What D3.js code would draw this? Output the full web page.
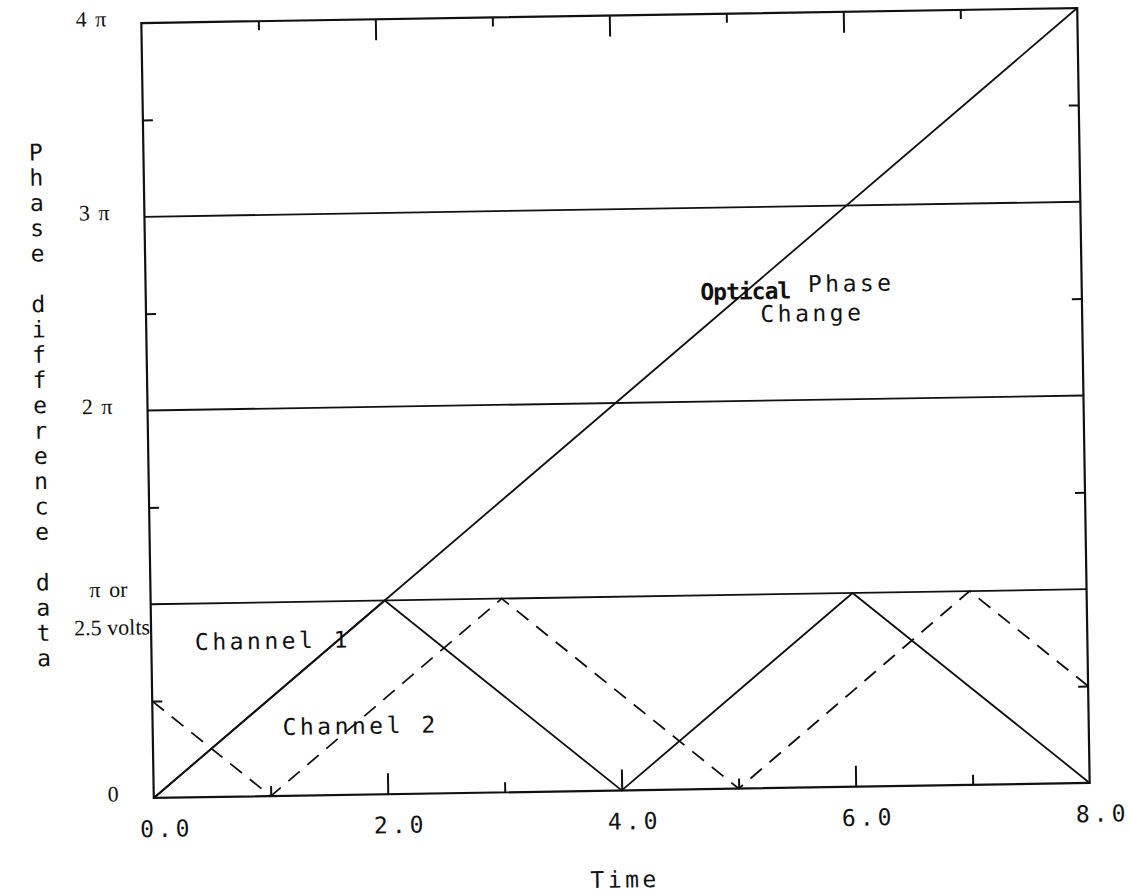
<!DOCTYPE html>
<html>
<head>
<meta charset="utf-8">
<script src="https://cdn.jsdelivr.net/npm/d3@7"></script>
<style>
  html, body { margin: 0; padding: 0; background: #fff; }
  svg { display: block; }
  .mono { font-family: "DejaVu Sans Mono", monospace; fill: #111; }
  .serif { font-family: "Liberation Serif", "DejaVu Serif", serif; fill: #111; }
</style>
</head>
<body>
<svg id="chart" width="1131" height="896"></svg>
<script>
// Time axis (arbitrary units) and phase values in multiples of pi
const time = [0, 1, 2, 3, 4, 5, 6, 7, 8];
const opticalTime = [0, 8];
const opticalPhase = [0, 4];
const channel1 = [0, 0.5, 1, 0.5, 0, 0.5, 1, 0.5, 0];
const channel2 = [0.5, 0, 0.5, 1, 0.5, 0, 0.5, 1, 0.5];

// Reference levels drawn across the plot
const phaseLevels = [1, 2, 3];
const yMinorTicks = [0.5, 1.5, 2.5, 3.5];
const xMajorTicks = [2, 4, 6];
const xMinorTicks = [1, 3, 5, 7];
const xTickLabels = [0, 2, 4, 6, 8];
const yTickValues = [0, 2, 3, 4];
const yTickText = ["0", "2 \u03c0", "3 \u03c0", "4 \u03c0"];
const piLabelLines = ["\u03c0 or", "2.5 volts"];
const yTitle = "Phase difference data";
const xTitle = "Time";

// Curve labels placed in data coordinates (time, phase / pi)
const annotations = [
  { text: "Channel 1", t: 0.373, v: 0.76 },
  { text: "Channel 2", t: 1.11, v: 0.314 },
  { text: "Optical", t: 4.74, v: 2.524, bold: true },
  { text: "Phase", t: 5.66, v: 2.557 },
  { text: "Change", t: 5.25, v: 2.406 }
];

const plotLeft = 147.5, plotRight = 1083.5, plotTop = 15.5, plotBottom = 790.5;
const cx = (plotLeft + plotRight) / 2, cy = (plotTop + plotBottom) / 2;

const svg = d3.select("#chart");
// whole sheet sits slightly tilted
const g = svg.append("g").attr("transform", `rotate(-0.92, ${cx}, ${cy})`);

const x = d3.scaleLinear().domain([0, 8]).range([plotLeft, plotRight]);
const y = d3.scaleLinear().domain([0, 4]).range([plotBottom, plotTop]);

// frame
g.append("rect")
  .attr("x", plotLeft).attr("y", plotTop)
  .attr("width", plotRight - plotLeft).attr("height", plotBottom - plotTop)
  .attr("fill", "none").attr("stroke", "#111").attr("stroke-width", 2.2);

// horizontal pi levels
g.selectAll("line.level").data(phaseLevels).join("line")
  .attr("class", "level")
  .attr("x1", plotLeft).attr("x2", plotRight)
  .attr("y1", d => y(d)).attr("y2", d => y(d))
  .attr("stroke", "#111").attr("stroke-width", 1.8);

// tick marks, all pointing inward
function tickAxis(axisFn, scale, values, size, transform) {
  const a = g.append("g").attr("transform", transform)
    .call(axisFn(scale).tickValues(values).tickSize(-size).tickFormat(""));
  a.select(".domain").remove();
  a.selectAll(".tick line").attr("stroke", "#111").attr("stroke-width", 2);
  return a;
}
tickAxis(d3.axisBottom, x, xMajorTicks, 21, `translate(0,${plotBottom})`);
tickAxis(d3.axisBottom, x, xMinorTicks, 10, `translate(0,${plotBottom})`);
tickAxis(d3.axisTop, x, xMajorTicks, 21, `translate(0,${plotTop})`);
tickAxis(d3.axisTop, x, xMinorTicks, 9, `translate(0,${plotTop})`);
tickAxis(d3.axisLeft, y, yMinorTicks, 10, `translate(${plotLeft},0)`);
tickAxis(d3.axisRight, y, yMinorTicks, 10, `translate(${plotRight},0)`);

// x tick labels
const xl = g.append("g").attr("transform", `translate(0,${plotBottom})`)
  .call(d3.axisBottom(x).tickValues(xTickLabels).tickSize(0).tickPadding(0)
    .tickFormat(d3.format(".1f")));
xl.select(".domain").remove();
xl.selectAll(".tick text")
  .attr("class", "mono")
  .attr("font-size", 23).attr("letter-spacing", 4)
  .attr("dy", 0).attr("y", 39).attr("x", 12)
  .attr("fill", "#111");

// y tick labels (serif)
const yl = g.append("g").attr("transform", `translate(${plotLeft},0)`)
  .call(d3.axisLeft(y).tickValues(yTickValues).tickSize(0).tickPadding(0)
    .tickFormat((d, i) => yTickText[i]));
yl.select(".domain").remove();
yl.selectAll(".tick text")
  .attr("class", "serif")
  .attr("font-size", 22).attr("x", -35).attr("dy", "0.1em")
  .attr("fill", "#111")
  .style("word-spacing", "3px");

// the pi level carries a two-line label
g.append("text").attr("class", "serif").attr("font-size", 22)
  .attr("x", plotLeft - 42).attr("y", y(1) - 8).attr("text-anchor", "middle")
  .style("word-spacing", "3px")
  .text(piLabelLines[0]);
g.append("text").attr("class", "serif").attr("font-size", 22)
  .attr("x", plotLeft - 1).attr("y", y(1) + 30).attr("text-anchor", "end")
  .text(piLabelLines[1]);

// optical phase ramp
const line = d3.line().x(d => x(d[0])).y(d => y(d[1]));
g.append("path")
  .attr("d", line(opticalTime.map((t, i) => [t, opticalPhase[i]])))
  .attr("fill", "none").attr("stroke", "#111").attr("stroke-width", 1.8);

// channel 1 (solid) and channel 2 (dashed)
g.append("path")
  .attr("d", line(time.map((t, i) => [t, channel1[i]])))
  .attr("fill", "none").attr("stroke", "#111").attr("stroke-width", 1.8);
g.append("path")
  .attr("d", line(time.map((t, i) => [t, channel2[i]])))
  .attr("fill", "none").attr("stroke", "#111").attr("stroke-width", 1.8)
  .attr("stroke-dasharray", "15,10");

// curve labels
g.selectAll("text.ann").data(annotations).join("text")
  .attr("class", "ann mono")
  .attr("x", d => x(d.t)).attr("y", d => y(d.v))
  .attr("font-size", 23)
  .attr("letter-spacing", d => d.bold ? -1 : 3.5)
  .attr("font-weight", d => d.bold ? "bold" : "normal")
  .text(d => d.text);

// axis titles
g.append("text").attr("class", "mono")
  .attr("x", x(4) + 2).attr("y", plotBottom + 97)
  .attr("text-anchor", "middle")
  .attr("font-size", 23).attr("letter-spacing", 3.5)
  .text(xTitle);

const letters = yTitle.split("");
const step = (649 - 143) / (letters.length - 1);
g.append("g").selectAll("text").data(letters).join("text")
  .attr("class", "mono")
  .attr("x", 40).attr("y", (d, i) => 143 + i * step)
  .attr("text-anchor", "middle").attr("dominant-baseline", "central")
  .attr("font-size", 23)
  .text(d => d);
</script>
</body>
</html>
